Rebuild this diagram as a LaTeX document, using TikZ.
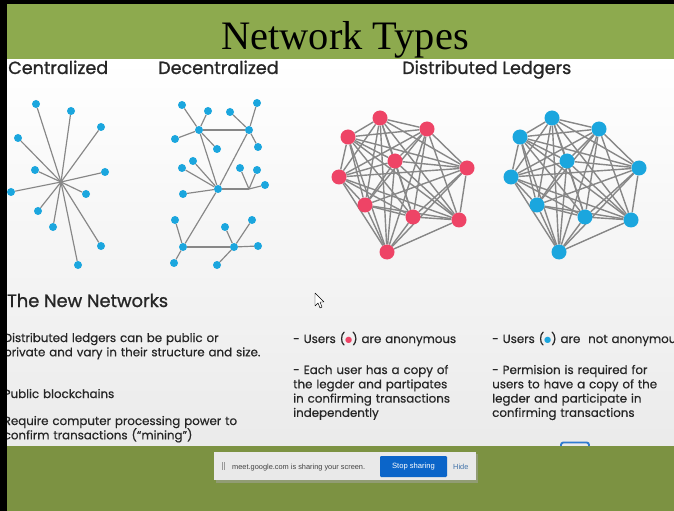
\documentclass[tikz,border=0pt]{standalone}
\usepackage{fontspec}
\setmainfont{Liberation Serif}
\newfontfamily\popfont{Poppins}[FakeBold=0.5]
\newfontfamily\pophead{Poppins}[FakeBold=1.1]
\newfontfamily\uifont{Liberation Sans}
\newfontfamily\symfont{DejaVu Sans}
\definecolor{headgreen}{HTML}{8DAA4E}
\definecolor{footgreen}{HTML}{7C9242}
\definecolor{dotblue}{HTML}{1BA6DE}
\definecolor{dotred}{HTML}{EE4466}
\definecolor{edgegray}{HTML}{878787}
\definecolor{ink}{HTML}{262626}
\definecolor{btnblue}{HTML}{0B65C9}
\definecolor{barbg}{HTML}{E9E9E9}
\pgfdeclarelayer{slide}
\pgfdeclarelayer{wires}
\pgfdeclarelayer{front}
\pgfsetlayers{slide,wires,main,front}
\newcommand\userdot[1]{\raisebox{.6pt}{\symfont\fontsize{7}{8}\selectfont\textcolor{#1}{●}}}

\begin{document}
\begin{tikzpicture}[x=0.03cm,y=-0.03cm,
    dot/.style={circle,fill=dotblue,inner sep=0pt,minimum size=0.24cm},
    bigdot/.style={circle,inner sep=0pt,minimum size=0.45cm},
    link/.style={draw=edgegray,line width=1pt},
    mesh/.style={draw=edgegray,line width=1.2pt},
    head/.style={anchor=base west,inner sep=0pt,text=ink,font=\pophead\fontsize{15}{18}\selectfont},
    para/.style={anchor=base west,inner sep=0pt,text=ink,text width=9cm,align=left,
      font=\popfont\fontsize{10.1}{12.2}\selectfont}]
  \useasboundingbox (0,0) rectangle (674,511);
  % slide and frame
  \begin{pgfonlayer}{slide}
    \fill[black] (0,0) rectangle (674,511);
    \shade[top color=white,bottom color=black!8] (7,59) rectangle (674,446);
    \fill[headgreen] (7,4) rectangle (674,59);
    \fill[footgreen] (7,446) rectangle (674,511);
  \end{pgfonlayer}
  \node[anchor=base,inner sep=0pt,font=\fontsize{34.5}{40}\selectfont] (title) at (345,50) {Network Types};
  \node[head] (hcent) at (8,74) {Centralized};
  \node[head] (hdec) at (158,74) {Decentralized};
  \node[head] (hdist) at (402,74) {Distributed Ledgers};
  % centralized
  \coordinate (cc) at (61,182);
  \foreach \n/\x/\y in {1/36/104,2/71/111,3/101/127,4/18/138,5/35/170,6/105/172,
      7/11/192,8/86/194,9/38/211,10/53/227,11/101/246,12/78/265} {
    \node[dot] (c\n) at (\x,\y) {};
    \draw[link] (cc) -- (c\n);
  }
  % decentralized
  \node[dot] (da) at (199,130) {};
  \node[dot] (db) at (249,130) {};
  \node[dot] (dc) at (218,189) {};
  \node[dot] (dd) at (183,247) {};
  \node[dot] (de) at (234,247) {};
  \coordinate (dj) at (249,189);
  \draw[link] (da) -- (db);
  \draw[link] (da) -- (dc);
  \draw[link] (db) -- (dc);
  \draw[link] (dc) -- (dj);
  \draw[link] (dc) -- (dd);
  \draw[link] (dd) -- (de);
  \foreach \n/\h/\x/\y in {1/da/182/105,2/da/208/111,3/da/175/139,4/da/217/149,
      5/db/230/112,6/db/257/103,7/db/258/147,8/dc/182/168,9/dc/193/161,10/dc/183/194,
      11/dj/240/168,12/dj/257/170,13/dj/265/185,14/dd/175/220,15/dd/174/263,
      16/de/225/227,17/de/252/220,18/de/258/246,19/de/217/265} {
    \node[dot] (d\n) at (\x,\y) {};
    \draw[link] (\h) -- (d\n);
  }
  % distributed ledgers
  \foreach \g/\dx/\col in {r/0/dotred,b/172/dotblue} {
    \foreach \n/\x/\y in {1/380/118,2/427/129,3/348/137,4/395/161,5/467/168,
        6/339/177,7/365/205,8/413/217,9/459/220,10/387/252}
      \node[bigdot,fill=\col] (\g\n) at (\x+\dx,\y) {};
    \begin{pgfonlayer}{wires}
      \foreach \i in {1,...,10}
        \foreach \j in {1,...,10} {
          \ifnum\i<\j \draw[mesh] (\g\i) -- (\g\j); \fi
        }
    \end{pgfonlayer}
  }
  % texts
  \node[head,font=\pophead\fontsize{15.2}{17}\selectfont] (newnet) at (7,307) {The New Networks};
  \node[para] (ledger) at (3.5,342) {Distributed ledgers can be public or\\private and vary in their structure and size.};
  \node[para] (public) at (3.5,398) {Public blockchains};
  \node[para] (mining) at (3.5,425) {Require computer processing power to\\confirm transactions (“mining”)};
  \node[para] (anon) at (293,343) {- Users (\userdot{dotred}) are anonymous};
  \node[para] (copy) at (293,374) {- Each user has a copy of\\the legder and partipates\\in confirming transactions\\independently};
  \node[para] (notanon) at (492,343) {- Users (\userdot{dotblue}) are\ \ not anonymous};
  \node[para] (perm) at (492,374) {- Permision is required for\\users to have a copy of the\\legder and participate in\\confirming transactions};
  % cursor
  \draw[fill=white,line width=.4pt,line join=round] (315,293) -- (315,306) -- (318,303) -- (320,308)
    -- (322,307) -- (320,302) -- (324,302) -- cycle;
  % share bar
  \draw[line width=1.6pt,draw=btnblue!85!white,rounded corners=2] (561,446) -- (561,442.5) -- (589,442.5) -- (589,446);
  \fill[black!35,opacity=.5] (216,454) rectangle (478,483);
  \fill[barbg] (214,452) rectangle (476,480);
  \draw[black!40,line width=.5pt] (222,462) -- (222,470) (224.5,462) -- (224.5,470);
  \node[anchor=base west,inner sep=0pt,text=black!75,font=\uifont\fontsize{6.3}{7}\selectfont] (sharetxt) at (232,469) {meet.google.com is sharing your screen.};
  \node[fill=btnblue,rounded corners=1pt,text=white,font=\uifont\fontsize{6.5}{7}\selectfont,
    minimum width=2.01cm,minimum height=0.63cm,inner sep=0pt] (stop) at (413.5,466.5) {Stop sharing};
  \node[anchor=base west,inner sep=0pt,text=btnblue!55!gray,font=\uifont\fontsize{6.3}{7}\selectfont] (hide) at (453,469) {Hide};
  \begin{pgfonlayer}{front}
    \fill[black] (0,0) rectangle (7,511);
  \end{pgfonlayer}
\end{tikzpicture}
\end{document}
